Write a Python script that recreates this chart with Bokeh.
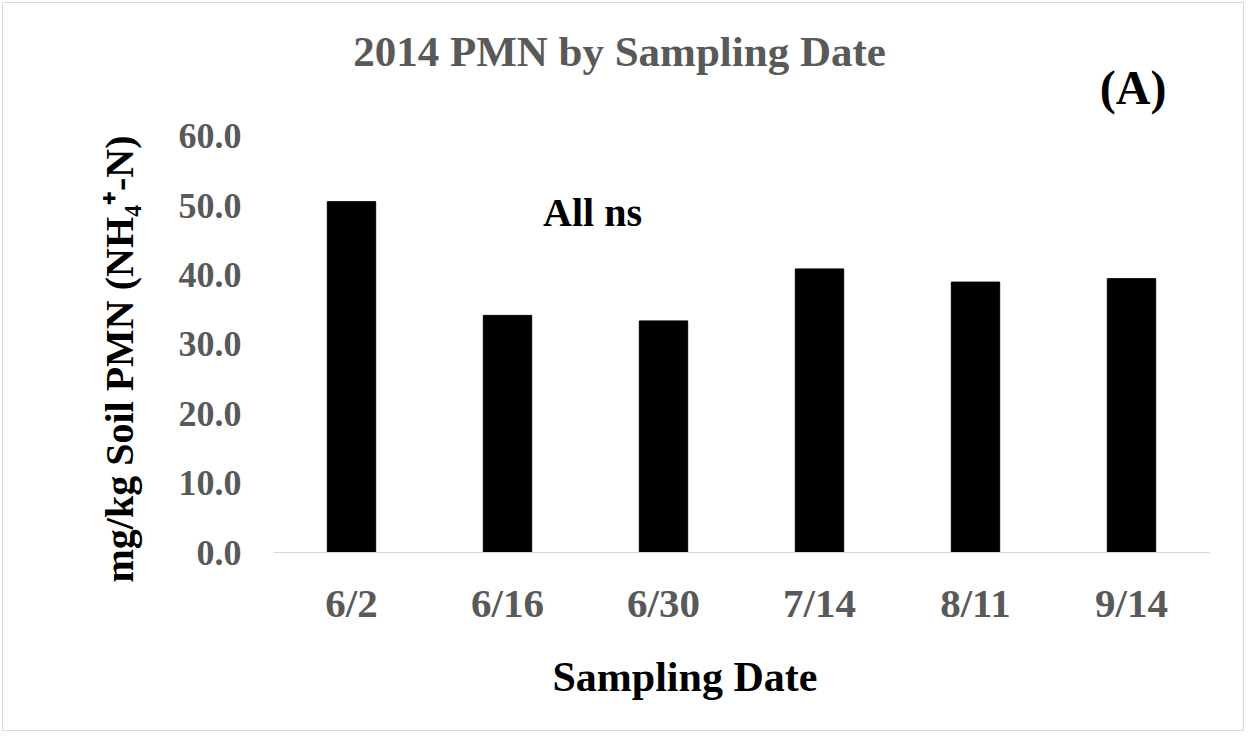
from bokeh.plotting import figure
from bokeh.models import Range1d, FixedTicker, PrintfTickFormatter, Label, FactorRange, Title
from bokeh.embed import file_html
from bokeh.resources import INLINE

# ---- data ----
dates = ["6/2", "6/16", "6/30", "7/14", "8/11", "9/14"]
pmn = [50.6, 34.2, 33.4, 40.9, 39.0, 39.5]
y_ticks = [0, 10, 20, 30, 40, 50, 60]
title_text = "2014 PMN by Sampling Date"
panel_text = "(A)"
note_text = "All ns"
x_label = "Sampling Date"
y_label = "mg/kg Soil PMN (NH\u2084\u207a-N)"

FONT = "Liberation Serif"
GRAY = "#595959"

# frame spans upward beyond 60 so the title texts sit inside it (no grid, no y axis line)
p = figure(
    x_range=FactorRange(*dates), y_range=Range1d(0, 77.74),
    width=1242, height=729, output_backend="svg", toolbar_location=None,
    min_border_left=270, min_border_right=36, min_border_top=10, min_border_bottom=180,
)
p.styles = {"border": "1px solid #d9d9d9", "margin": "2px"}
p.outline_line_color = None
p.xgrid.visible = False
p.ygrid.visible = False

p.vbar(x=dates, top=pmn, width=0.31, fill_color="black", line_color="black")

# y axis
ya = p.yaxis[0]
ya.ticker = FixedTicker(ticks=y_ticks)
ya.formatter = PrintfTickFormatter(format="%.1f")
ya.axis_line_color = None
ya.major_tick_line_color = None
ya.minor_tick_line_color = None
ya.major_label_text_font = FONT
ya.major_label_text_font_style = "bold"
ya.major_label_text_font_size = "36px"
ya.major_label_text_color = GRAY
ya.major_label_standoff = 26

# x axis
xa = p.xaxis[0]
xa.axis_line_color = "#d9d9d9"
xa.axis_line_width = 1
xa.major_tick_line_color = None
xa.minor_tick_line_color = None
xa.major_label_text_font = FONT
xa.major_label_text_font_style = "bold"
xa.major_label_text_font_size = "41px"
xa.major_label_text_color = GRAY
xa.major_label_standoff = 21

# axis titles
p.add_layout(Title(text=y_label, align="left", offset=-30, standoff=67,
                   text_font=FONT, text_font_style="bold", text_font_size="40px",
                   text_color="black"), "left")
p.add_layout(Title(text=x_label, align="left", offset=279, standoff=50, vertical_align="top",
                   text_font=FONT, text_font_style="bold", text_font_size="42px",
                   text_color="black"), "below")

def lab(text, x, y, size, color="black"):
    p.add_layout(Label(x=x, y=y, text=text, text_font=FONT, text_font_style="bold",
                       text_font_size=size, text_color=color,
                       text_align="center", text_baseline="middle"))

lab(title_text, 2.218, 72.2, "43px", GRAY)
lab(panel_text, 5.51, 67.1, "48px")
lab(note_text, 2.045, 49.0, "40px")

open("out.html", "w").write(file_html(p, INLINE))
